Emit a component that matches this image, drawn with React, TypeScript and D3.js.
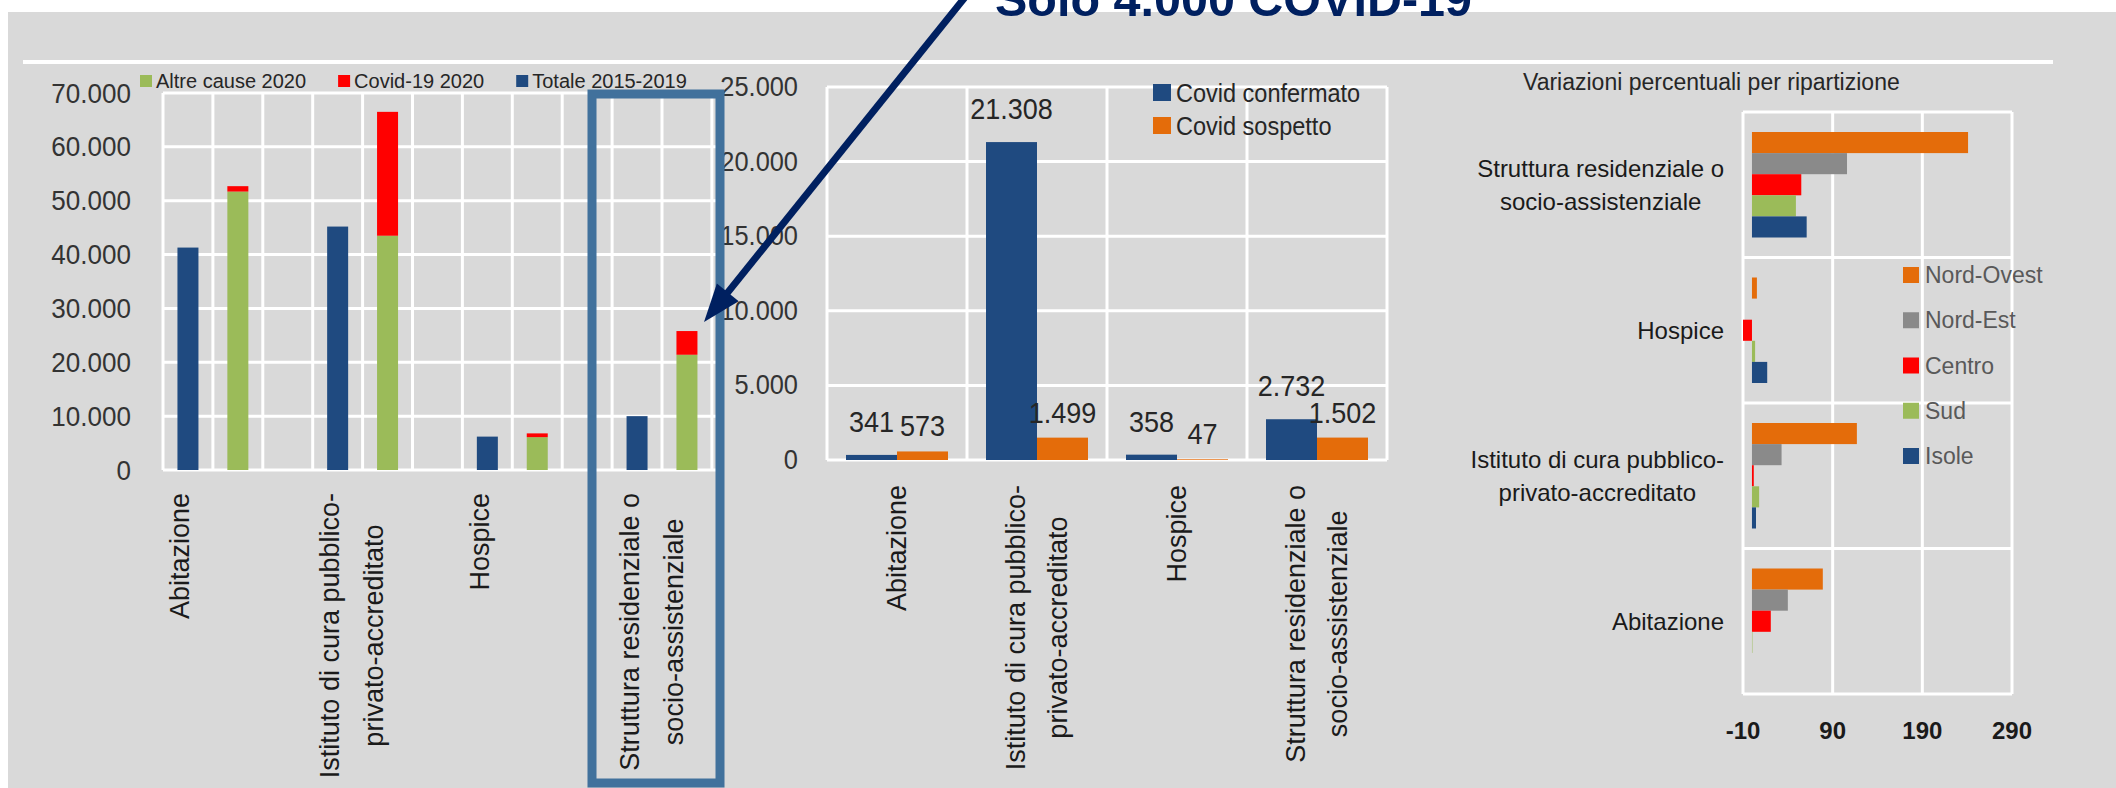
import { useRef, useEffect } from 'react';
import { select, scaleLinear, scaleBand, formatLocale } from 'd3';

const W = 2116;
const H = 788;

// left panel: deaths by place, 2015-2019 vs 2020
const leftCategories = [
  'Abitazione',
  'Istituto di cura pubblico-|privato-accreditato',
  'Hospice',
  'Struttura residenziale o|socio-assistenziale',
];
const totale20152019 = [41300, 45200, 6200, 10000];
const altreCause2020 = [51700, 43500, 6100, 21400];
const covid2020 = [1000, 23000, 700, 4400];
const leftTicks = [0, 10000, 20000, 30000, 40000, 50000, 60000, 70000];
const leftLegend = ['Altre cause 2020', 'Covid-19 2020', 'Totale 2015-2019'];

// middle panel: confirmed vs suspected covid
const midCategories = leftCategories;
const covidConfermato = [341, 21308, 358, 2732];
const covidSospetto = [573, 1499, 47, 1502];
const midTicks = [0, 5000, 10000, 15000, 20000, 25000];
const midLegend = ['Covid confermato', 'Covid sospetto'];

// right panel: % variation by area
const rightTitle = 'Variazioni percentuali per ripartizione';
const rightCategories = [
  'Struttura residenziale o|socio-assistenziale',
  'Hospice',
  'Istituto di cura pubblico-|privato-accreditato',
  'Abitazione',
];
const regions = ['Nord-Ovest', 'Nord-Est', 'Centro', 'Sud', 'Isole'];
const nordOvest = [241, 5.5, 117, 79];
const nordEst = [106, 0, 33, 40];
const centro = [55, -10, 2, 21];
const sud = [49, 3.5, 8, 0.5];
const isole = [61, 17, 4.5, 0];
const rightTicks = [-10, 90, 190, 290];

const headline = 'Solo 4.000 COVID-19';

const NAVY = '#1f4a80';
const GREEN = '#9bbb59';
const RED = '#ff0000';
const ORANGE = '#e46c0a';
const GREY = '#8a8a8a';
const BG = '#d9d9d9';
const FONT = '"Liberation Sans", Arial, sans-serif';

// slightly condensed look of the original (Arial Narrow-ish)
const squeeze = (sel: any, k: number) => {
  const len = (sel.node() as SVGTextElement).getComputedTextLength();
  sel.attr('textLength', len * k).attr('lengthAdjust', 'spacingAndGlyphs');
};

const App = () => {
  const svgRef = useRef<SVGSVGElement | null>(null);

  useEffect(() => {
    const svg = select(svgRef.current);
    svg.selectAll('*').remove();
    const fmt = formatLocale({
      decimal: ',',
      thousands: '.',
      grouping: [3],
      currency: ['€', ''],
    }).format(',d');

    svg.append('rect').attr('x', 8).attr('y', 12)
      .attr('width', W - 8).attr('height', H - 12).attr('fill', BG);
    svg.append('line').attr('x1', 23).attr('x2', 2053).attr('y1', 62).attr('y2', 62)
      .attr('stroke', '#fff').attr('stroke-width', 4);

    const grid = (g: any, x1: number, y1: number, x2: number, y2: number) =>
      g.append('line').attr('x1', x1).attr('y1', y1).attr('x2', x2).attr('y2', y2)
        .attr('stroke', '#fff').attr('stroke-width', 3);

    // ---------- left chart ----------
    const gl = svg.append('g');
    const yL = scaleLinear().domain([0, 70000]).range([470, 93]);
    const xL = scaleBand<string>().domain(leftCategories).range([163, 163 + 12 * 49.9]);
    const slot = scaleBand<string>().domain(['totale', 'anno', 'vuoto']).range([0, xL.bandwidth()]);
    const leftEdge = 719;
    leftTicks.forEach((t) => grid(gl, 163, yL(t), leftEdge, yL(t)));
    leftCategories.forEach((c) => {
      slot.domain().forEach((s) => {
        const x = (xL(c) as number) + (slot(s) as number);
        if (x <= leftEdge) grid(gl, x, yL(70000), x, yL(0));
      });
    });
    leftTicks.forEach((t) => {
      const tx = gl.append('text')
        .attr('x', 131).attr('y', yL(t)).attr('text-anchor', 'end')
        .attr('dominant-baseline', 'central').attr('font-family', FONT).attr('font-size', 28)
        .attr('fill', '#333').text(fmt(t));
      squeeze(tx, 0.93);
    });
    const bw = 21;
    const cx = (c: string, s: string) => (xL(c) as number) + (slot(s) as number) + slot.bandwidth() / 2;
    leftCategories.forEach((c, i) => {
      gl.append('rect').attr('x', cx(c, 'totale') - bw / 2).attr('width', bw)
        .attr('y', yL(totale20152019[i])).attr('height', yL(0) - yL(totale20152019[i])).attr('fill', NAVY);
      gl.append('rect').attr('x', cx(c, 'anno') - bw / 2).attr('width', bw)
        .attr('y', yL(altreCause2020[i])).attr('height', yL(0) - yL(altreCause2020[i])).attr('fill', GREEN);
      gl.append('rect').attr('x', cx(c, 'anno') - bw / 2).attr('width', bw)
        .attr('y', yL(altreCause2020[i] + covid2020[i]))
        .attr('height', yL(altreCause2020[i]) - yL(altreCause2020[i] + covid2020[i])).attr('fill', RED);
    });

    // rotated multi-line labels, top aligned, lines centered on each other
    const rotLabels = (g: any, label: string, firstX: number, top: number, step: number) => {
      const lines = label.split('|');
      const nodes = lines.map((ln) =>
        g.append('text').attr('font-family', FONT).attr('font-size', 27).attr('fill', '#1a1a1a')
          .attr('text-anchor', 'middle').attr('dominant-baseline', 'central').text(ln));
      const maxLen = Math.max(...nodes.map((n: any) => n.node().getComputedTextLength()));
      nodes.forEach((n: any, k: number) =>
        n.attr('transform', `translate(${firstX + k * step},${top + maxLen / 2}) rotate(-90)`));
    };
    leftCategories.forEach((c) => rotLabels(gl, c, cx(c, 'totale') - 7.5, 493, 44));

    // left legend
    let lx = 140;
    const legCol = [GREEN, RED, NAVY];
    leftLegend.forEach((name, i) => {
      gl.append('rect').attr('x', lx).attr('y', 75).attr('width', 12).attr('height', 12).attr('fill', legCol[i]);
      const t = gl.append('text').attr('x', lx + 16).attr('y', 81).attr('dominant-baseline', 'central')
        .attr('font-family', FONT).attr('font-size', 20).attr('fill', '#262626').text(name);
      lx += 16 + (t.node() as SVGTextElement).getComputedTextLength() + 32;
    });

    // ---------- middle chart ----------
    const gm = svg.append('g');
    const yM = scaleLinear().domain([0, 25000]).range([460, 87]);
    const xM = scaleBand<string>().domain(midCategories).range([827, 1387]);
    midTicks.forEach((t) => grid(gm, 827, yM(t), 1387, yM(t)));
    [...midCategories.map((c) => xM(c) as number), 1387].forEach((x) => grid(gm, x, yM(25000), x, yM(0)));
    midTicks.forEach((t) => {
      const tx = gm.append('text')
        .attr('x', 798).attr('y', yM(t)).attr('text-anchor', 'end')
        .attr('dominant-baseline', 'central').attr('font-family', FONT).attr('font-size', 27)
        .attr('fill', '#333').text(fmt(t));
      squeeze(tx, 0.94);
    });
    const mbw = 51;
    midCategories.forEach((c, i) => {
      const mid = (xM(c) as number) + xM.bandwidth() / 2;
      const pairs: [number, string, number, number][] = [
        [covidConfermato[i], NAVY, mid - mbw, 23],
        [covidSospetto[i], ORANGE, mid, 15],
      ];
      pairs.forEach(([v, col, x, gap]) => {
        gm.append('rect').attr('x', x).attr('width', mbw).attr('y', yM(v))
          .attr('height', yM(0) - yM(v)).attr('fill', col);
        const lbl = gm.append('text').attr('x', x + mbw / 2).attr('y', yM(v) - gap).attr('text-anchor', 'middle')
          .attr('font-family', FONT).attr('font-size', 30).attr('fill', '#262626').text(fmt(v));
        squeeze(lbl, 0.9);
      });
      const n = c.split('|').length;
      rotLabels(gm, c, mid - 21 * (n - 1), 485, 42);
    });
    const midCol = [NAVY, ORANGE];
    midLegend.forEach((name, i) => {
      gm.append('rect').attr('x', 1153).attr('y', 84 + i * 33).attr('width', 18).attr('height', 17).attr('fill', midCol[i]);
      const t = gm.append('text').attr('x', 1176).attr('y', 93 + i * 33).attr('dominant-baseline', 'central')
        .attr('font-family', FONT).attr('font-size', 25).attr('fill', '#262626').text(name);
      squeeze(t, 0.94);
    });

    // ---------- right chart ----------
    const gr = svg.append('g');
    const xR = scaleLinear().domain([-10, 290]).range([1743, 2012]);
    const yR = scaleBand<string>().domain(rightCategories).range([112, 694]);
    const inner = scaleBand<string>().domain(regions).range([20, yR.bandwidth() - 20]);
    const series = [nordOvest, nordEst, centro, sud, isole];
    const regCol = [ORANGE, GREY, RED, GREEN, NAVY];
    rightTicks.forEach((t) => grid(gr, xR(t), 112, xR(t), 694));
    [...rightCategories.map((c) => yR(c) as number), 694].forEach((y) => grid(gr, xR(-10), y, xR(290), y));
    rightCategories.forEach((c, i) => {
      regions.forEach((r, k) => {
        const v = series[k][i];
        gr.append('rect').attr('x', xR(Math.min(0, v))).attr('width', Math.abs(xR(v) - xR(0)))
          .attr('y', (yR(c) as number) + (inner(r) as number)).attr('height', inner.bandwidth())
          .attr('fill', regCol[k]);
      });
      const lines = c.split('|');
      const center = (yR(c) as number) + yR.bandwidth() / 2;
      const nodes = lines.map((ln, k) =>
        gr.append('text').attr('y', center + (k - (lines.length - 1) / 2) * 33)
          .attr('dominant-baseline', 'central').attr('text-anchor', 'middle')
          .attr('font-family', FONT).attr('font-size', 24).attr('fill', '#1a1a1a').text(ln));
      const maxLen = Math.max(...nodes.map((n) => (n.node() as SVGTextElement).getComputedTextLength()));
      nodes.forEach((n) => n.attr('x', 1724 - maxLen / 2));
    });
    gr.selectAll('.xtick').data(rightTicks).join('text')
      .attr('x', (d) => xR(d)).attr('y', 730).attr('text-anchor', 'middle')
      .attr('dominant-baseline', 'central').attr('font-family', FONT).attr('font-size', 24)
      .attr('font-weight', 'bold').attr('fill', '#1a1a1a').text((d) => String(d));
    gr.append('text').attr('x', 1523).attr('y', 82).attr('dominant-baseline', 'central')
      .attr('font-family', FONT).attr('font-size', 23).attr('fill', '#262626').text(rightTitle);
    regions.forEach((r, k) => {
      const y = 275 + k * 45.25;
      gr.append('rect').attr('x', 1903).attr('y', y - 8).attr('width', 16).attr('height', 16).attr('fill', regCol[k]);
      gr.append('text').attr('x', 1925).attr('y', y).attr('dominant-baseline', 'central')
        .attr('font-family', FONT).attr('font-size', 23).attr('fill', '#595959').text(r);
    });

    // ---------- annotation ----------
    svg.append('rect').attr('x', 592).attr('y', 94).attr('width', 128).attr('height', 689)
      .attr('fill', 'none').attr('stroke', '#41719c').attr('stroke-width', 9);
    const tip = [704, 322];
    const start = [966, -4];
    const dx = tip[0] - start[0];
    const dy = tip[1] - start[1];
    const len = Math.hypot(dx, dy);
    const ux = dx / len;
    const uy = dy / len;
    svg.append('line').attr('x1', start[0]).attr('y1', start[1])
      .attr('x2', tip[0] - ux * 30).attr('y2', tip[1] - uy * 30)
      .attr('stroke', '#002060').attr('stroke-width', 7);
    const bx = tip[0] - ux * 38;
    const by = tip[1] - uy * 38;
    svg.append('polygon')
      .attr('points', `${tip[0]},${tip[1]} ${bx - uy * 14},${by + ux * 14} ${bx + uy * 14},${by - ux * 14}`)
      .attr('fill', '#002060');
    svg.append('text').attr('x', 995).attr('y', 16).attr('font-family', FONT)
      .attr('font-size', 48).attr('font-weight', 'bold').attr('fill', '#002060')
      .attr('textLength', 477).attr('lengthAdjust', 'spacingAndGlyphs').text(headline);
  }, []);

  return (
    <div style={{ position: 'absolute', left: 0, top: 0 }}>
      <svg ref={svgRef} width={W} height={H} style={{ display: 'block', background: '#fff' }}></svg>
    </div>
  );
};

export default App;
